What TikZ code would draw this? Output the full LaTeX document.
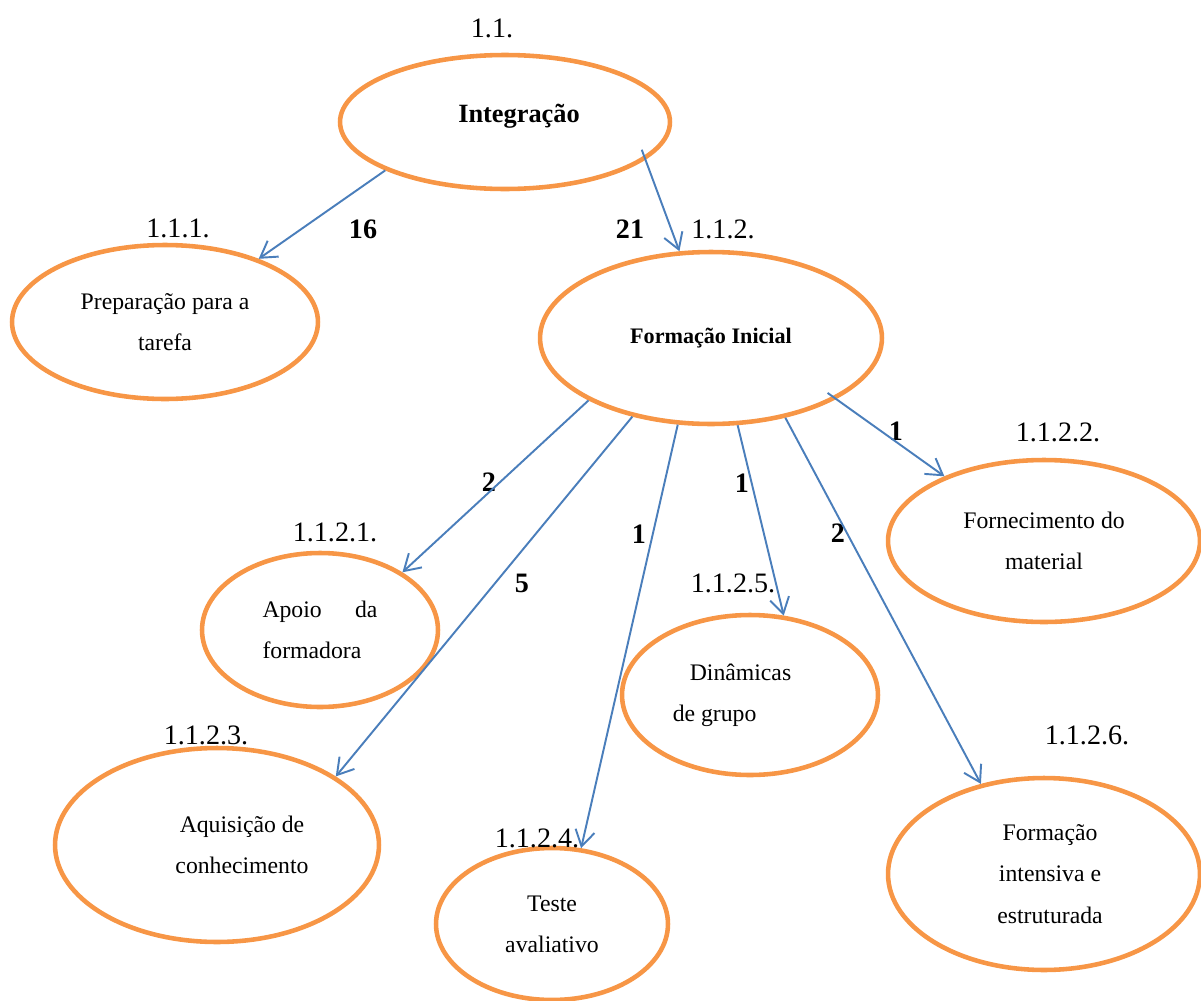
\documentclass[tikz,border=0pt]{standalone}
\usepackage{fontspec}
\setmainfont{Liberation Serif}
\usetikzlibrary{arrows.meta, shapes.geometric}

\definecolor{ellOrange}{HTML}{F79646}
\definecolor{arrBlue}{HTML}{4A7EBB}

\begin{document}
\begin{tikzpicture}[
            x=0.02cm, y=-0.02cm,
            ell/.style={ellipse, draw=ellOrange, line width=2.6pt, inner sep=0pt, align=center,
                font=\fontsize{13.5}{23.5}\selectfont},
            num/.style={font=\fontsize{16}{18}\selectfont},
            cnt/.style={font=\fontsize{16}{18}\selectfont\bfseries},
            arr/.style={-{Straight Barb[length=9pt, width=11pt]}, arrBlue, line width=1.1pt},
        ]
        \useasboundingbox (0,0) rectangle (1201,1001);
        % Ellipses, placed at pixel coordinates of the original
        \node[ell, minimum width=6.6cm, minimum height=2.68cm, font=\fontsize{15}{18}\selectfont\bfseries] (integ) at (505,122) {\hspace*{0.56cm}Integração\\[-8pt]\mbox{}};
        \node[ell, minimum width=6.12cm, minimum height=3.08cm] (prep) at (165,322) {Preparação para a\\tarefa};
        \node[ell, minimum width=6.84cm, minimum height=3.44cm, font=\fontsize{12.6}{15}\selectfont\bfseries] (form) at (711,338) {Formação Inicial};
        \node[ell, minimum width=4.72cm, minimum height=3.08cm, align=left] (apoio) at (320,630) {\makebox[2.3cm]{Apoio\hfill da}\\formadora};
        \node[ell, minimum width=6.24cm, minimum height=3.24cm] (forn) at (1044,541) {Fornecimento do\\material};
        \node[ell, minimum width=5.12cm, minimum height=3.2cm, align=left] (din) at (750,695) {\hspace*{0.34cm}Dinâmicas\hspace*{0.72cm}\\de grupo};
        \node[ell, minimum width=6.48cm, minimum height=3.88cm] (aquis) at (217,845) {\hspace*{1cm}Aquisição de\\\hspace*{1cm}conhecimento};
        \node[ell, minimum width=4.64cm, minimum height=3.04cm] (teste) at (552,924) {Teste\\avaliativo};
        \node[ell, minimum width=6.24cm, minimum height=3.84cm] (intens) at (1044,874) {\hspace*{0.24cm}Formação\\\hspace*{0.24cm}intensiva e\\\hspace*{0.24cm}estruturada};
        % Codes
        \node[num] (n11) at (492,28) {1.1.};
        \node[num] (n111) at (178,228) {1.1.1.};
        \node[num] (n112) at (723,229) {1.1.2.};
        \node[num] (n1122) at (1058,432) {1.1.2.2.};
        \node[num] (n1121) at (335,532) {1.1.2.1.};
        \node[num] (n1125) at (733,583) {1.1.2.5.};
        \node[num] (n1123) at (206,735) {1.1.2.3.};
        \node[num] (n1126) at (1087,735) {1.1.2.6.};
        \node[num] (n1124) at (537,838) {1.1.2.4.};
        % Counts
        \node[cnt] (c16) at (363,229) {16};
        \node[cnt] (c21) at (630,229) {21};
        \node[cnt] (cforn) at (896,431) {1};
        \node[cnt] (capoio) at (489,482) {2};
        \node[cnt] (cdin) at (742,483) {1};
        \node[cnt] (cteste) at (639,534) {1};
        \node[cnt] (cintens) at (838,533) {2};
        \node[cnt] (caquis) at (522,583) {5};
        % Arrows
        \draw[arr] (integ.202) -- (prep.34);
        \draw[arr, shorten <=-6pt] (integ.-15) -- (form.110);
        \draw[arr] (form.207) -- (apoio.35);
        \draw[arr] (form.225) -- (aquis.30);
        \draw[arr] (form.249) -- (teste.69);
        \draw[arr] (form.-73) -- (din.67);
        \draw[arr] (form.-47) -- (intens.125);
        \draw[arr, shorten <=-6pt] (form.-26) -- (forn.147);
    \end{tikzpicture}
\end{document}
